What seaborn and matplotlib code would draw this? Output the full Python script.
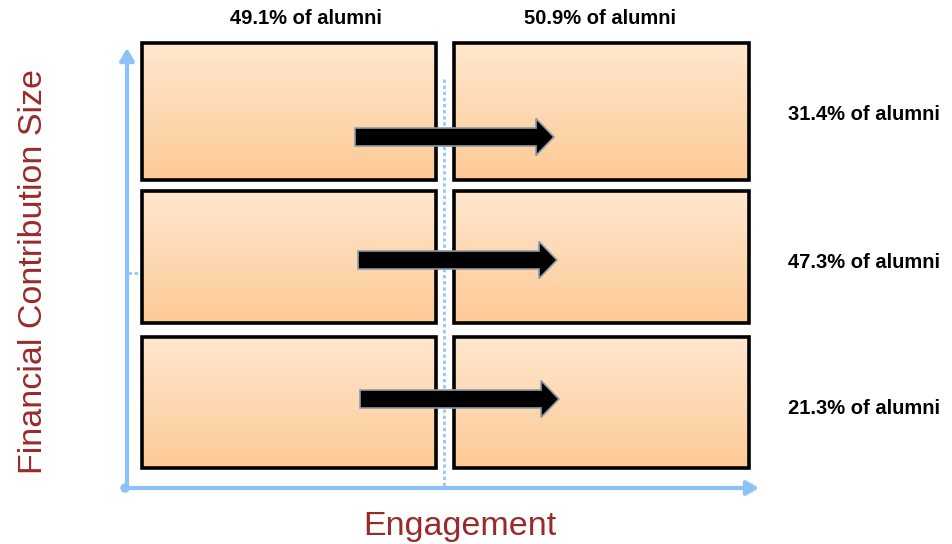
import numpy as np
import matplotlib
matplotlib.use("Agg")
import matplotlib.pyplot as plt
from matplotlib.patches import Rectangle, FancyArrow, Circle
import seaborn as sns

# ---- data ----
col_share = [49.1, 50.9]           # % of alumni per engagement column
row_share = [31.4, 47.3, 21.3]     # % of alumni per contribution row (top -> bottom)
x_label = "Engagement"
y_label = "Financial Contribution Size"

sns.set_theme(style="white")
plt.rcParams['font.family'] = ['Liberation Sans', 'DejaVu Sans']

W, H = 953, 544
fig = plt.figure(figsize=(W / 100, H / 100), dpi=100)
ax = fig.add_axes([0, 0, 1, 1])
ax.set_xlim(0, W)
ax.set_ylim(H, 0)
ax.axis("off")

# layout (pixel space)
cols = [(142, 436), (454, 749)]
rows = [(43, 180), (191, 323), (337, 468)]
col_label_x = [306, 600]
row_label_y = [115, 262, 408]
axis_col = "#8CC2F8"
dot_col = "#94C6F7"
title_red = "#9B2A2A"

# gradient fill
top = np.array([255, 231, 206]) / 255
bot = np.array([253, 202, 150]) / 255
t = np.linspace(0, 1, 64)[:, None]
grad = (top[None, :] * (1 - t) + bot[None, :] * t)[:, None, :]

# dotted separator lines (behind boxes)
ax.plot([444, 444], [79, 488], color=dot_col, lw=2, ls=(0, (1.2, 1.0)), zorder=1)
ax.plot([128, 141], [273, 273], color=dot_col, lw=2, ls=(0, (1.2, 1.0)), zorder=1)

for (x0, x1) in cols:
    for (y0, y1) in rows:
        ax.imshow(grad, extent=(x0, x1, y1, y0), aspect="auto", zorder=2,
                  interpolation="bilinear")
        ax.add_patch(Rectangle((x0, y0), x1 - x0, y1 - y0, fill=False,
                               ec="black", lw=2.6, zorder=3))

# arrows
arrow_starts = [(355, 137), (358, 260), (360, 399)]
for (xs, ys) in arrow_starts:
    ax.add_patch(FancyArrow(xs, ys, 199, 0, width=18, head_width=37,
                            head_length=18, length_includes_head=True,
                            fc="black", ec="#8F9BA8", lw=1.2, zorder=5))

# axes arrows
ax.annotate("", xy=(127, 48), xytext=(127, 488),
            arrowprops=dict(arrowstyle="-|>,head_width=0.35,head_length=0.6",
                            color=axis_col, lw=3, shrinkA=0, shrinkB=0), zorder=4)
ax.annotate("", xy=(759, 488), xytext=(125, 488),
            arrowprops=dict(arrowstyle="-|>,head_width=0.35,head_length=0.6",
                            color=axis_col, lw=3, shrinkA=0, shrinkB=0), zorder=4)
ax.add_patch(Circle((125, 488), 4, color=axis_col, zorder=4))

# column labels
for x, s in zip(col_label_x, col_share):
    ax.text(x, 19, f"{s}% of alumni", ha="center", va="center",
            fontsize=14.5, fontweight="bold", color="black")

# row labels
for y, s in zip(row_label_y, row_share):
    ax.text(788, y, f"{s}% of alumni", ha="left", va="center",
            fontsize=14.5, fontweight="bold", color="black")

# axis titles
ax.text(460, 526, x_label, ha="center", va="center", fontsize=24.5,
        color=title_red)
ax.text(34, 272, y_label, ha="center", va="center", fontsize=24.5,
        color=title_red, rotation=90)

fig.savefig("out.png", dpi=100)
